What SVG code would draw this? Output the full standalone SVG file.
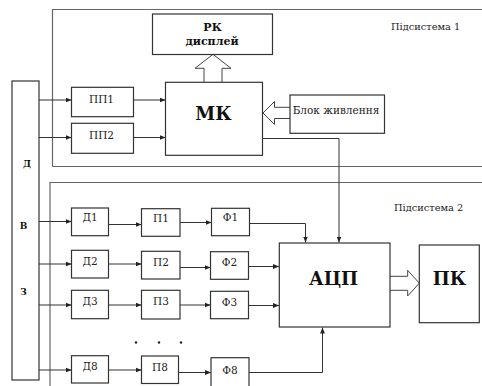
<svg xmlns="http://www.w3.org/2000/svg" width="482" height="386" viewBox="0 0 482 386" font-family="'DejaVu Serif', serif">
<defs>
<marker id="ah" viewBox="0 0 10 10" refX="10" refY="5" markerWidth="6" markerHeight="6" markerUnits="userSpaceOnUse" orient="auto">
<path d="M0,1 L10,5 L0,9 z" fill="#222"/>
</marker>
<style>
.box{fill:#fff;stroke:#333;stroke-width:1.2}
.frame{fill:none;stroke:#666;stroke-width:1.2}
.arr{fill:none;stroke:#333;stroke-width:1;marker-end:url(#ah)}
.hol{fill:#fff;stroke:#444;stroke-width:1}
.t{font-size:10.5px;fill:#222;text-anchor:middle}
.tb{font-weight:bold;fill:#111;text-anchor:middle}
.tl{font-size:9.8px;fill:#222}
</style>
</defs>
<rect width="482" height="386" fill="#fff"/>
<g id="frames">
<path class="frame" d="M52.5,166.5 V9.5 H484 M52.5,166.5 H484"/>
<path class="frame" d="M50,388 V182.5 H484"/>
<text class="tl" x="391" y="30">Підсистема 1</text>
<text class="tl" x="394" y="211">Підсистема 2</text>
</g>
<g id="connectors">
<path class="arr" d="M39,100 H71.5"/>
<path class="arr" d="M39,137.5 H71.5"/>
<path class="arr" d="M133.5,100 H165.5"/>
<path class="arr" d="M133.5,137.5 H165.5"/>
<path class="arr" d="M262.5,138.5 H339 V242.5"/>
<path class="arr" d="M39,221.5 H71.5"/>
<path class="arr" d="M39,264 H71.5"/>
<path class="arr" d="M39,305 H71.5"/>
<path class="arr" d="M39,370 H71.5"/>
<path class="arr" d="M108.5,224.5 H141.5"/>
<path class="arr" d="M108.5,264 H141.5"/>
<path class="arr" d="M108.5,305 H141.5"/>
<path class="arr" d="M108.5,370 H141.5"/>
<path class="arr" d="M180,222.5 H211.5"/>
<path class="arr" d="M180,267.5 H210.5"/>
<path class="arr" d="M180,305 H210.5"/>
<path class="arr" d="M178.5,372.5 H211"/>
<path class="arr" d="M249.5,223.5 H305.5 V242.5"/>
<path class="arr" d="M248.5,266.5 H279"/>
<path class="arr" d="M248.5,305.5 H279"/>
<path class="arr" d="M249,372.5 H322.5 V327.5"/>
<polyline class="hol" points="204,82.3 204,68.3 195,68.3 213,54.3 231,68.3 222,68.3 222,82.3"/>
<polyline class="hol" points="290,107.3 274.5,107.3 274.5,101.5 263,113 274.5,124.5 274.5,118.5 290,118.5"/>
<polyline class="hol" points="390,276.3 407.7,276.3 407.7,270.3 419.3,283.2 407.7,296 407.7,290.3 390,290.3"/>
</g>
<g id="dvz">
<rect class="box" x="12" y="81" width="27" height="299"/>
<text class="tb" x="27" y="167" font-size="9">Д</text>
<text class="tb" x="23.5" y="229" font-size="9">В</text>
<text class="tb" x="23.5" y="295" font-size="9">З</text>
</g>
<g id="display">
<rect class="box" x="152.5" y="14" width="120" height="40.5"/>
<text class="tb" x="212.5" y="30.5" font-size="11">РК</text>
<text class="tb" x="212" y="45" font-size="11">дисплей</text>
</g>
<g id="mk">
<rect class="box" x="165.5" y="82.3" width="97" height="73"/>
<text class="tb" x="213.5" y="120" font-size="18">МК</text>
</g>
<g id="pp1"><rect class="box" x="71.5" y="87.3" width="62" height="29.4"/><text class="t" x="101.5" y="102.5">ПП1</text></g>
<g id="pp2"><rect class="box" x="71.5" y="123.3" width="62" height="30"/><text class="t" x="101.5" y="139">ПП2</text></g>
<g id="power"><rect class="box" x="290" y="95" width="94.5" height="38.3"/><text class="t" x="336" y="114" font-size="10">Блок живлення</text></g>
<g id="d1"><rect class="box" x="71.5" y="208" width="37" height="27.7"/><text class="t" x="90" y="220.5">Д1</text></g>
<g id="p1"><rect class="box" x="141.5" y="208.7" width="38.5" height="27.6"/><text class="t" x="161" y="221.5">П1</text></g>
<g id="f1"><rect class="box" x="211.5" y="208.3" width="38" height="27.4"/><text class="t" x="230.5" y="220.5">Ф1</text></g>
<g id="d2"><rect class="box" x="71.5" y="250.3" width="37" height="27.7"/><text class="t" x="90" y="264.5">Д2</text></g>
<g id="p2"><rect class="box" x="141.5" y="251.3" width="38.5" height="27.7"/><text class="t" x="161" y="265.5">П2</text></g>
<g id="f2"><rect class="box" x="210.5" y="251.7" width="38" height="27.6"/><text class="t" x="229.5" y="266">Ф2</text></g>
<g id="d3"><rect class="box" x="71.5" y="290.3" width="37" height="28.4"/><text class="t" x="90" y="304.5">Д3</text></g>
<g id="p3"><rect class="box" x="141.5" y="290.3" width="38.5" height="28.7"/><text class="t" x="161" y="304.5">П3</text></g>
<g id="f3"><rect class="box" x="210.5" y="291.3" width="38" height="27.4"/><text class="t" x="229.5" y="305.5">Ф3</text></g>
<g id="d8"><rect class="box" x="71.5" y="355.7" width="37" height="27.3"/><text class="t" x="90" y="370">Д8</text></g>
<g id="p8"><rect class="box" x="141.5" y="356" width="37" height="27.5"/><text class="t" x="160" y="371">П8</text></g>
<g id="f8"><rect class="box" x="211" y="357.7" width="38" height="30"/><text class="t" x="230" y="373.5">Ф8</text></g>
<g id="dots" fill="#222">
<circle cx="136" cy="342.5" r="1.2"/><circle cx="159" cy="342.5" r="1.2"/><circle cx="181" cy="342.5" r="1.2"/>
</g>
<g id="adc"><rect class="box" x="279.3" y="243" width="110.7" height="84"/><text class="tb" x="333.5" y="284.5" font-size="18">АЦП</text></g>
<g id="pc"><rect class="box" x="419.3" y="245" width="60" height="77.7"/><text class="tb" x="449.5" y="285" font-size="18">ПК</text></g>
</svg>
